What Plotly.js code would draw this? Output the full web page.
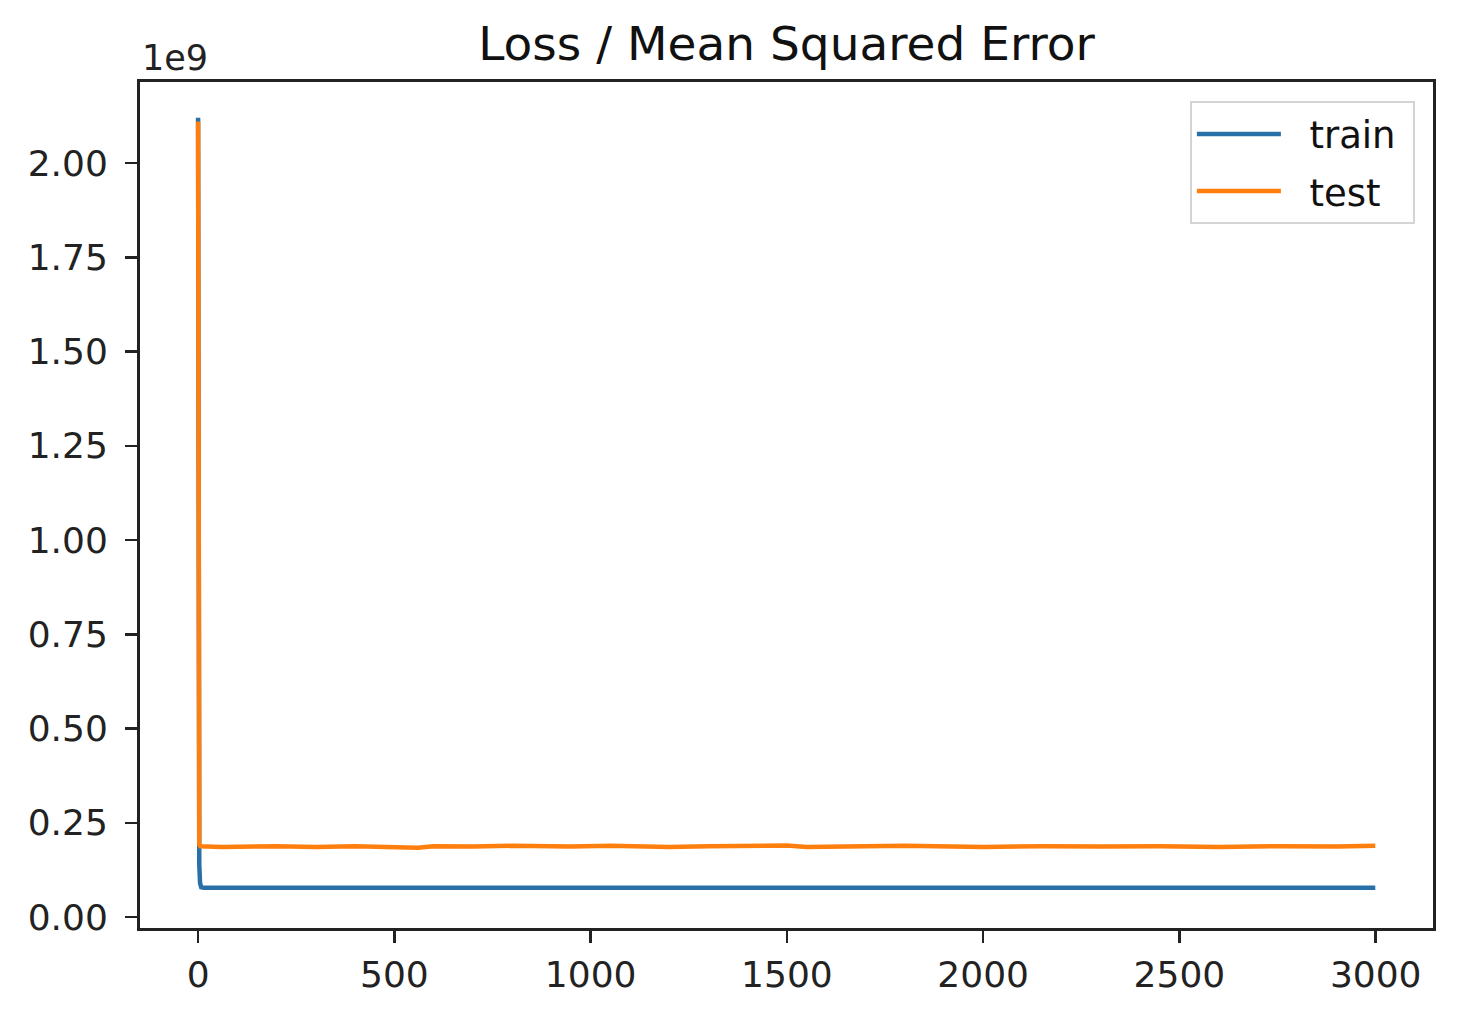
<!DOCTYPE html>
<html>
<head>
<meta charset="utf-8">
<script src="https://cdn.plot.ly/plotly-3.0.1.min.js"></script>
<style>
  html, body { margin: 0; padding: 0; background: #fff; }
  #myDiv { width: 1462px; height: 1014px; }
</style>
</head>
<body>
<div id="myDiv"></div>
<script>
var trainEpochs = [0, 1, 2, 3, 5, 8, 15, 100, 500, 1000, 1500, 2000, 2500, 2999];
var trainLoss = [2.12e9, 0.95e9, 0.30e9, 0.14e9, 0.09e9, 0.079e9, 0.078e9, 0.078e9,
                 0.078e9, 0.078e9, 0.078e9, 0.078e9, 0.078e9, 0.078e9];

var testEpochs = [0, 1, 2, 3, 6, 60, 200, 300, 400, 560, 600, 700, 800, 950, 1050,
                  1200, 1300, 1500, 1550, 1700, 1800, 2000, 2150, 2300, 2450, 2600,
                  2750, 2900, 2999];
var testLoss = [2.11e9, 0.80e9, 0.26e9, 0.192e9, 0.188e9, 0.186e9, 0.188e9, 0.186e9,
                0.188e9, 0.184e9, 0.188e9, 0.187e9, 0.189e9, 0.187e9, 0.189e9,
                0.186e9, 0.188e9, 0.19e9, 0.186e9, 0.187e9, 0.189e9, 0.186e9,
                0.188e9, 0.187e9, 0.188e9, 0.186e9, 0.188e9, 0.187e9, 0.189e9];

var xTicks = [0, 500, 1000, 1500, 2000, 2500, 3000];
var yTicks = [0, 0.25e9, 0.5e9, 0.75e9, 1.0e9, 1.25e9, 1.5e9, 1.75e9, 2.0e9];
var yTickText = ['0.00', '0.25', '0.50', '0.75', '1.00', '1.25', '1.50', '1.75', '2.00'];

var train = {
  x: trainEpochs,
  y: trainLoss,
  name: '\u00a0\u00a0train\u00a0',
  legendgroup: 'train',
  type: 'scatter',
  mode: 'lines',
  line: { color: '#2a70a8', width: 4.5 }
};

var test = {
  x: testEpochs,
  y: testLoss,
  name: '\u00a0\u00a0test\u00a0',
  legendgroup: 'test',
  type: 'scatter',
  mode: 'lines',
  line: { color: '#ff7f0e', width: 4.5 }
};

var font = 'DejaVu Sans, sans-serif';

var layout = {
  width: 1462,
  height: 1014,
  paper_bgcolor: 'white',
  plot_bgcolor: 'white',
  margin: { l: 140, r: 29, t: 82, b: 86 },
  showlegend: true,
  title: {
    text: 'Loss / Mean Squared Error',
    font: { family: font, size: 47, color: '#111' },
    xref: 'paper', x: 0.5, xanchor: 'center',
    y: 0.957, yanchor: 'middle'
  },
  xaxis: {
    range: [-148, 3146],
    tickvals: xTicks,
    ticks: 'outside', ticklen: 12, tickwidth: 2.5, tickcolor: '#222',
    ticklabelstandoff: 1,
    showgrid: false, zeroline: false,
    showline: true, linecolor: '#222', linewidth: 3, mirror: true,
    tickfont: { family: font, size: 36, color: '#222' }
  },
  yaxis: {
    range: [-0.029e9, 2.215e9],
    tickvals: yTicks,
    ticktext: yTickText,
    ticks: 'outside', ticklen: 12, tickwidth: 2.5, tickcolor: '#222',
    ticklabelstandoff: 10,
    showgrid: false, zeroline: false,
    showline: true, linecolor: '#222', linewidth: 3, mirror: true,
    tickfont: { family: font, size: 36, color: '#222' }
  },
  legend: {
    x: 0.986, xanchor: 'right',
    y: 0.977, yanchor: 'top',
    bgcolor: 'white',
    bordercolor: '#d4d4d4', borderwidth: 2,
    itemwidth: 84,
    font: { family: font, size: 37, color: '#111' },
    tracegroupgap: 6
  },
  annotations: [{
    text: '1e9',
    xref: 'paper', yref: 'paper',
    x: 0, y: 1, xanchor: 'left', yanchor: 'bottom',
    yshift: 2,
    showarrow: false,
    font: { family: font, size: 35, color: '#222' }
  }]
};

Plotly.newPlot('myDiv', [train, test], layout, { displayModeBar: false, staticPlot: true });
</script>
</body>
</html>
